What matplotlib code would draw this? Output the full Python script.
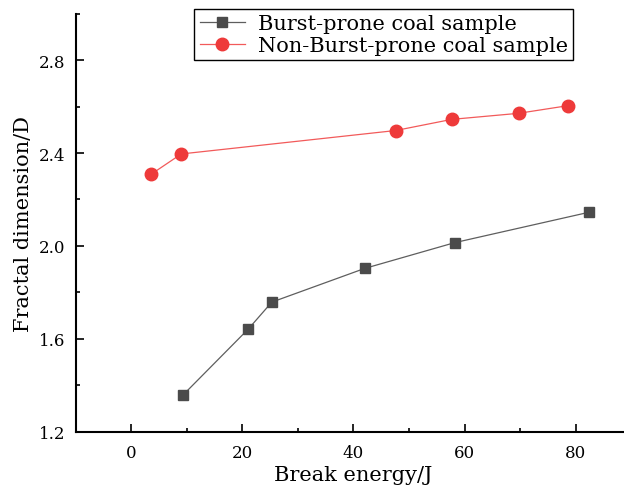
import matplotlib
matplotlib.use("Agg")
import matplotlib.pyplot as plt
from matplotlib.ticker import MultipleLocator

# Data
burst_x = [9.4, 21.1, 25.3, 42.0, 58.2, 82.4]
burst_y = [1.360, 1.643, 1.758, 1.903, 2.014, 2.145]
non_x = [3.6, 9.0, 47.6, 57.7, 69.7, 78.6]
non_y = [2.309, 2.396, 2.497, 2.545, 2.571, 2.604]
labels = ["Burst-prone coal sample", "Non-Burst-prone coal sample"]
xlabel = "Break energy/J"
ylabel = "Fractal dimension/D"
yticks = [1.2, 1.6, 2.0, 2.4, 2.8]
ytick_labels = ['1.2', '1.6', '2.0', '2.4', '2.8']

plt.rcParams['font.family'] = ['DejaVu Serif']

W, H = 624, 489
fig = plt.figure(figsize=(W / 100, H / 100), dpi=100)
# axes extends slightly past the right edge of the image (cropped original)
left_px, right_px, top_px, bot_px = 75.7, 631.3, 14.7, 432.7
ax = fig.add_axes([left_px / W, 1 - bot_px / H, (right_px - left_px) / W, (bot_px - top_px) / H])

ax.plot(burst_x, burst_y, color='#5e5e5e', lw=0.9, marker='s', ms=7.3,
        mfc='#4b4b4b', mec='#4b4b4b', label=labels[0])
ax.plot(non_x, non_y, color='#f25a5a', lw=0.9, marker='o', ms=9,
        mfc='#ee3a3a', mec='#ee3a3a', label=labels[1])

ax.set_xlim(-10, 90)
ax.set_ylim(1.2, 3.0)
ax.xaxis.set_major_locator(MultipleLocator(20))
ax.xaxis.set_minor_locator(MultipleLocator(10))
ax.yaxis.set_minor_locator(MultipleLocator(0.2))
ax.set_yticks(yticks)
ax.set_yticklabels(ytick_labels)

for s in ['top', 'right']:
    ax.spines[s].set_visible(False)
for s in ['left', 'bottom']:
    ax.spines[s].set_linewidth(1.5)

ax.tick_params(which='major', direction='in', length=6, width=1.2, labelsize=12)
ax.tick_params(which='minor', direction='in', length=3, width=1.2)
ax.tick_params(axis='y', which='major', pad=7.5)
ax.tick_params(axis='x', which='major', pad=9.0)

ax.set_xlabel(xlabel, fontsize=15, labelpad=2.5)
ax.set_ylabel(ylabel, fontsize=15)
ax.yaxis.set_label_coords((33 - left_px) / (right_px - left_px), 0.5)

leg = ax.legend(loc='upper left', bbox_to_anchor=(194.3 / W, 1 - 10 / H),
                bbox_transform=fig.transFigure, fontsize=15, frameon=True,
                fancybox=False, edgecolor='black', handlelength=2.2,
                borderpad=0.25, labelspacing=0.14, handletextpad=0.6,
                borderaxespad=0, framealpha=1)
leg.get_frame().set_linewidth(1.0)

fig.savefig("out.png", dpi=100)
